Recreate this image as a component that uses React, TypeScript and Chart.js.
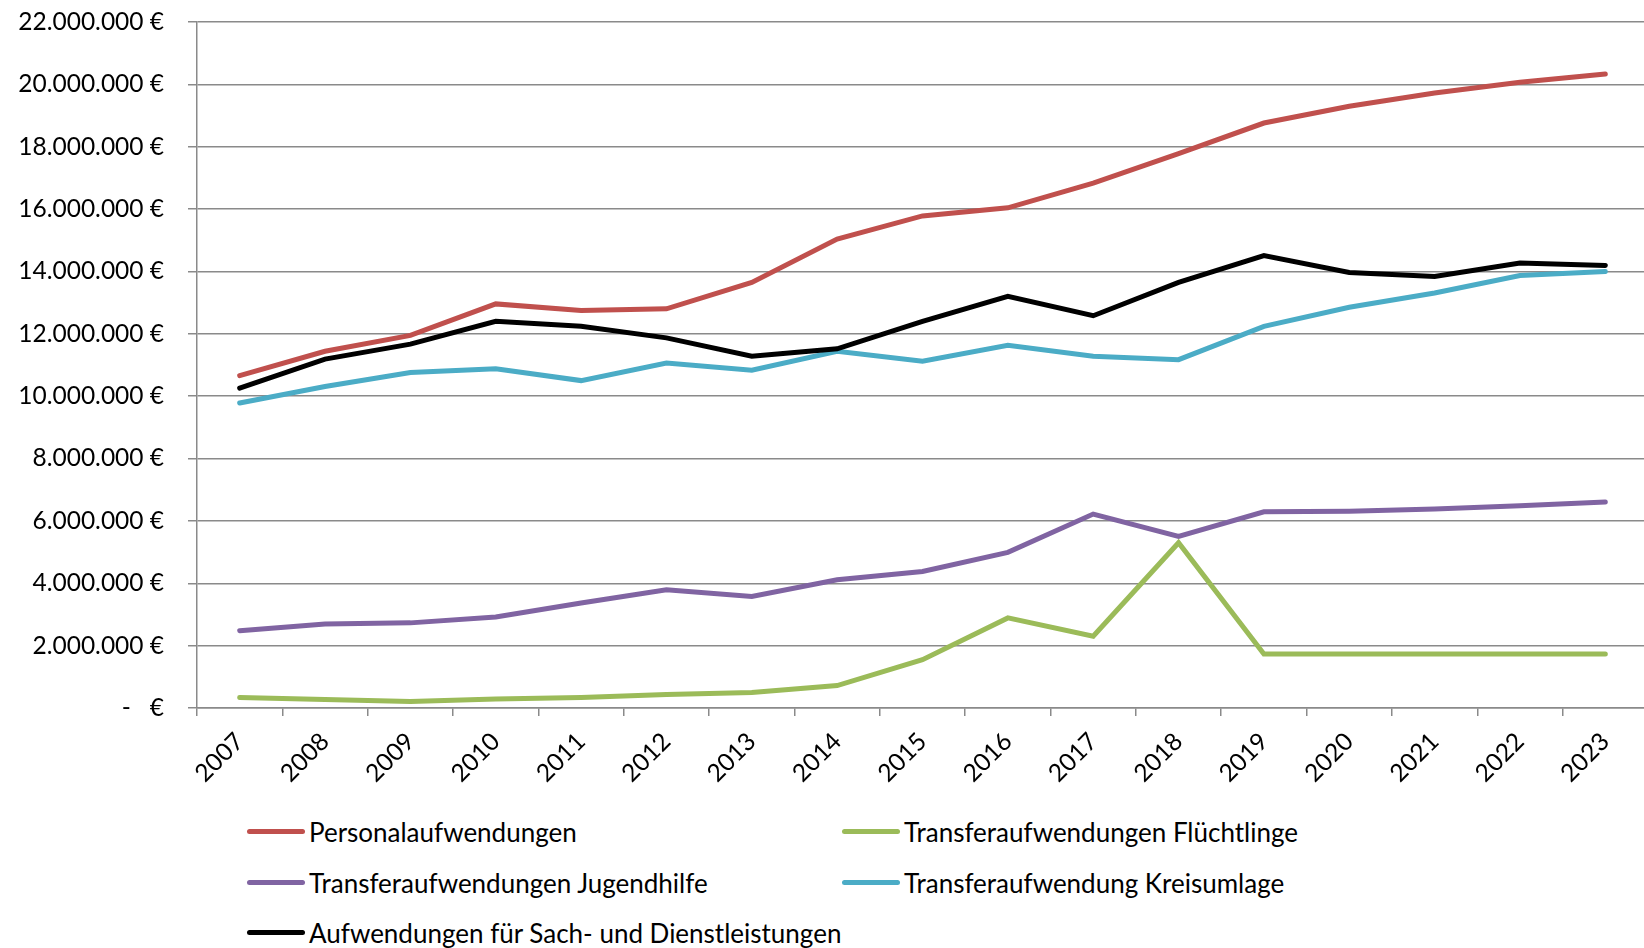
import React, { useEffect, useRef } from "react";
import { Chart, registerables } from "chart.js";

Chart.register(...registerables);

const years = ["2007", "2008", "2009", "2010", "2011", "2012", "2013", "2014", "2015", "2016", "2017", "2018", "2019", "2020", "2021", "2022", "2023"];

const personalaufwendungen = [10660000, 11440000, 11950000, 12960000, 12750000, 12800000, 13650000, 15040000, 15780000, 16040000, 16830000, 17780000, 18760000, 19300000, 19720000, 20070000, 20330000];
const fluechtlinge = [340000, 270000, 210000, 290000, 340000, 430000, 500000, 720000, 1550000, 2890000, 2300000, 5300000, 1730000, 1730000, 1730000, 1730000, 1730000];
const jugendhilfe = [2480000, 2690000, 2730000, 2920000, 3370000, 3790000, 3580000, 4110000, 4380000, 4990000, 6220000, 5500000, 6290000, 6310000, 6380000, 6490000, 6610000];
const kreisumlage = [9780000, 10310000, 10760000, 10880000, 10500000, 11060000, 10830000, 11440000, 11120000, 11630000, 11280000, 11170000, 12240000, 12850000, 13310000, 13870000, 14000000];
const sachDienst = [10260000, 11190000, 11670000, 12400000, 12240000, 11870000, 11280000, 11520000, 12400000, 13200000, 12580000, 13650000, 14510000, 13970000, 13840000, 14270000, 14190000];

const seriesNames = [
  "Personalaufwendungen",
  "Transferaufwendungen Flüchtlinge",
  "Transferaufwendungen Jugendhilfe",
  "Transferaufwendung Kreisumlage",
  "Aufwendungen für Sach- und Dienstleistungen",
];
const seriesColors = ["#C0504D", "#9BBB59", "#8064A2", "#4BACC6", "#000000"];
const seriesData = [personalaufwendungen, fluechtlinge, jugendhilfe, kreisumlage, sachDienst];

const yMin = 0;
const yMax = 22000000;
const yStep = 2000000;

const FONT = "Lato, 'Noto Sans', sans-serif";
const GRID = "#8A8A8A";

function formatEuro(v: number): string {
  if (v === 0) return "-   €";
  const s = Math.round(v).toString();
  const parts: string[] = [];
  for (let i = s.length; i > 0; i -= 3) parts.unshift(s.slice(Math.max(0, i - 3), i));
  return parts.join(".") + " €";
}

const legendLayout = [
  { left: 247, top: 831.5 },
  { left: 842, top: 831.5 },
  { left: 247, top: 882.5 },
  { left: 842, top: 882.5 },
  { left: 247, top: 932.5 },
];

export default function App() {
  const ref = useRef<HTMLCanvasElement | null>(null);

  useEffect(() => {
    if (!ref.current) return;
    const chart = new Chart(ref.current, {
      type: "line",
      data: {
        labels: years,
        datasets: seriesData.map((d, i) => ({
          label: seriesNames[i],
          data: d,
          borderColor: seriesColors[i],
          backgroundColor: seriesColors[i],
          borderWidth: 5,
          borderCapStyle: "round" as const,
          borderJoinStyle: "miter" as const,
          pointRadius: 0,
          tension: 0,
          order: 5 - i,
        })),
      },
      options: {
        responsive: false,
        animation: false,
        devicePixelRatio: 1,
        layout: { padding: { top: 22, right: 12, left: 0, bottom: 0 } },
        plugins: { legend: { display: false }, tooltip: { enabled: false } },
        scales: {
          x: {
            offset: true,
            grid: {
              display: true,
              offset: true,
              drawOnChartArea: false,
              drawTicks: true,
              tickLength: 8,
              color: GRID,
              lineWidth: 1.5,
            },
            border: { display: true, color: GRID, width: 1.5 },
            ticks: {
              autoSkip: false,
              maxRotation: 45,
              minRotation: 45,
              padding: 11,
              color: "#000",
              font: { family: FONT, size: 24.5 },
            },
            afterFit: (scale: any) => {
              scale.height = 92;
            },
          },
          y: {
            min: yMin,
            max: yMax,
            grid: {
              color: GRID,
              lineWidth: 1.5,
              drawTicks: true,
              tickLength: 9,
            },
            border: { display: true, color: GRID, width: 1.5 },
            ticks: {
              stepSize: yStep,
              padding: 24,
              color: "#000",
              font: { family: FONT, size: 24.5 },
              callback: (v: any) => formatEuro(Number(v)),
            },
            afterFit: (scale: any) => {
              scale.width = 197;
              scale.paddingTop = 0;
              scale.paddingBottom = 0;
            },
          },
        },
      },
    });
    return () => chart.destroy();
  }, []);

  return (
    <div
      style={{
        position: "absolute",
        left: 0,
        top: 0,
        width: 1644,
        height: 948,
        overflow: "hidden",
        background: "#fff",
      }}
    >
      <canvas ref={ref} width={1660} height={800} style={{ position: "absolute", left: 0, top: 0 }} />
      {seriesNames.map((name, i) => (
        <div key={name} style={{ position: "absolute", left: legendLayout[i].left, top: legendLayout[i].top - 20, height: 40, display: "flex", alignItems: "center", whiteSpace: "nowrap" }}>
          <div style={{ width: 58, height: 5, borderRadius: 3, background: seriesColors[i] }} />
          <span style={{ marginLeft: 4, fontFamily: FONT, fontSize: 26, color: "#000", lineHeight: "40px" }}>{name}</span>
        </div>
      ))}
    </div>
  );
}
